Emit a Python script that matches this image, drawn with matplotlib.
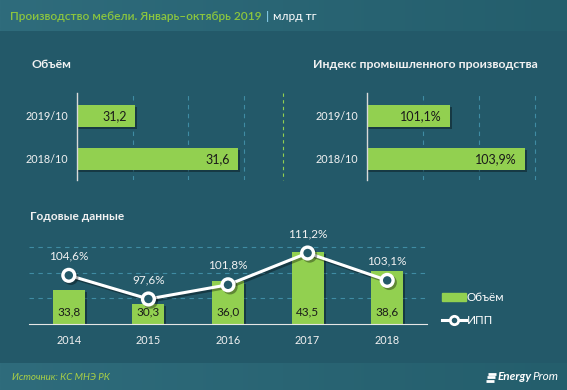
import matplotlib.pyplot as plt
import numpy as np
from matplotlib import patheffects as pe
from matplotlib.colors import LinearSegmentedColormap
from matplotlib.lines import Line2D
from matplotlib.patches import Patch

W, H = 567, 390

# data
periods = ["2018/10", "2019/10"]
volume = [31.6, 31.2]
ipp_period = [103.9, 101.1]

years = ["2014", "2015", "2016", "2017", "2018"]
volume_year = [33.8, 30.3, 36.0, 43.5, 38.6]
ipp_year = [104.6, 97.6, 101.8, 111.2, 103.1]

BG = "#235969"
GREEN = "#92d050"
GRID = "#3f8ca3"
TXT = "#f2f2f2"

plt.rcParams["font.family"] = ["Lato", "DejaVu Sans"]


def px(x0, y0, x1, y1):
    # pixel box (top-left origin) -> figure fraction rect
    return [x0 / W, 1 - y1 / H, (x1 - x0) / W, (y1 - y0) / H]


def fmt(v, pct=False):
    s = f"{v:.1f}".replace(".", ",")
    return s + "%" if pct else s


bar_shadow = [pe.SimplePatchShadow(offset=(1.5, -1.5), shadow_rgbFace="black", alpha=0.35), pe.Normal()]

fig = plt.figure(figsize=(W / 100, H / 100), dpi=100, facecolor=BG)

# background bands
bg = fig.add_axes([0, 0, 1, 1], zorder=-10)
grad = np.linspace(0, 1, 256)[None, :]
band = LinearSegmentedColormap.from_list("band", ["#2f6c7c", "#245e6c"])
bg.imshow(grad, cmap=band, extent=(0, W, 31, 0), aspect="auto")
bg.imshow(grad, cmap=band, extent=(0, W, H, 363), aspect="auto")
bg.plot([283, 283], [93, 180], color=GREEN, lw=0.8, ls=(0, (3, 3)))
bg.set_xlim(0, W)
bg.set_ylim(H, 0)
bg.axis("off")

# header
t1 = bg.text(10, 16, "Производство мебели. Январь–октябрь 2019", color="#8cc63e",
             fontsize=8.6, va="center", weight="semibold")
t2 = bg.annotate("|", xy=(1, 0.5), xycoords=t1, xytext=(3, 0), textcoords="offset points",
                 color="#7fc4e0", fontsize=8.6, va="center", weight="bold")
bg.annotate("млрд тг", xy=(1, 0.5), xycoords=t2, xytext=(3, 0), textcoords="offset points",
            color="white", fontsize=8.6, va="center")

# section titles
bg.text(32, 65, "Объём", color=TXT, fontsize=8.8, weight="bold", va="center")
bg.text(313, 65, "Индекс промышленного производства", color=TXT, fontsize=8.8,
        weight="bold", va="center")
bg.text(30, 216, "Годовые данные", color=TXT, fontsize=8.6, weight="bold", va="center")

# footer
bg.text(12, 377, "Источник: КС МНЭ РК", color="#a9cf46", fontsize=7, style="italic", va="center")
logo = bg.text(498, 377, "Energy", color="white", fontsize=8.5, weight="bold",
               style="italic", va="center")
bg.annotate("Prom", xy=(1, 0.5), xycoords=logo, color="white", fontsize=8.5,
            style="italic", va="center")
for dy in (-3.5, 0, 3.5):
    bg.plot([487 + dy * -0.3, 495 + dy * -0.3], [377 + dy, 377 + dy], color="white",
            lw=2, solid_capstyle="butt")


def style_hbar(ax, labels):
    ax.set_facecolor("none")
    for s in ("top", "right", "bottom"):
        ax.spines[s].set_visible(False)
    ax.spines["left"].set_color("#d9d9d9")
    ax.spines["left"].set_linewidth(1)
    ax.set_yticks(range(len(labels)), labels)
    ax.tick_params(axis="y", length=0, pad=6, colors=TXT, labelsize=7.8)
    ax.tick_params(axis="x", length=0, labelbottom=False)
    ax.grid(axis="x", color=GRID, ls=(0, (4, 4)), lw=0.8)
    ax.set_axisbelow(True)
    ax.set_ylim(-0.49, 1.535)


# top left: volume
ax1 = fig.add_axes(px(77, 93, 299, 180))
bars = ax1.barh(range(len(volume)), volume, height=0.51, color=GREEN)
for b in bars:
    b.set_path_effects(bar_shadow)
lo, hi = 30.975, 30.975 + 222 / 257.5
ax1.set_xlim(lo, hi)
ax1.set_xticks(np.linspace(lo, hi, 5)[1:4])
style_hbar(ax1, periods)
for i, v in enumerate(volume):
    ax1.annotate(fmt(v), xy=(v, i), xytext=(-6, 0), textcoords="offset points",
                 ha="right", va="center", fontsize=9, color="#1a1a1a")

# top right: index
ax2 = fig.add_axes(px(367, 93, 545, 180))
bars = ax2.barh(range(len(ipp_period)), ipp_period, height=0.51, color=GREEN)
for b in bars:
    b.set_path_effects(bar_shadow)
ax2.set_xlim(98, 98 + 178 / 26.8)
ax2.set_xticks(98 + 56 / 26.8 * np.arange(1, 4))
style_hbar(ax2, periods)
for i, v in enumerate(ipp_period):
    ax2.annotate(fmt(v, True), xy=(v, i), xytext=(-6, 0), textcoords="offset points",
                 ha="right", va="center", fontsize=9, color="#1a1a1a")

# bottom: yearly data
ax3 = fig.add_axes(px(29, 230, 427, 324))
ax3.set_facecolor("none")
x = np.arange(len(years))
bars = ax3.bar(x, volume_year, width=0.4, color=GREEN)
for b in bars:
    b.set_path_effects(bar_shadow)
y0 = 25.2
ax3.set_ylim(y0, y0 + 94 / 3.94)
ax3.set_yticks(y0 + 25.7 / 3.94 * np.arange(1, 4))
ax3.set_xlim(-0.5, 4.5)
ax3.set_xticks(x, years)
ax3.grid(axis="y", color=GRID, ls=(0, (4, 4)), lw=0.8)
ax3.set_axisbelow(True)
ax3.tick_params(axis="y", length=0, labelleft=False)
ax3.tick_params(axis="x", length=0, pad=8, colors=TXT, labelsize=7.8)
for s in ("top", "right", "left"):
    ax3.spines[s].set_visible(False)
ax3.spines["bottom"].set_color("#e6e6e6")
for i, v in enumerate(volume_year):
    ax3.annotate(fmt(v), xy=(i, y0), xytext=(0, 9), textcoords="offset points",
                 ha="center", va="center", fontsize=8.5, color="#1a1a1a")

ax4 = ax3.twinx()
ax4.set_ylim(90.2, 90.2 + 94 / 3.38)
ax4.axis("off")
ax4.plot(x, ipp_year, color="white", lw=2.2, marker="o", ms=8.5, mfc=BG, mec="white", mew=2.4,
         path_effects=[pe.SimpleLineShadow(offset=(1.5, -1.5), alpha=0.35), pe.Normal()])
for i, v in enumerate(ipp_year):
    ax4.annotate(fmt(v, True), xy=(i, v), xytext=(0, 14), textcoords="offset points",
                 ha="center", va="center", fontsize=8.5, color=TXT)

handles = [Patch(color=GREEN),
           Line2D([], [], color="white", lw=2.2, marker="o", ms=6, mfc=BG, mec="white", mew=2)]
fig.legend(handles, ["Объём", "ИПП"], loc="upper left", bbox_to_anchor=(436 / W, 1 - 286 / H),
           frameon=False, labelcolor="white", fontsize=8.5, handlelength=2.0,
           handletextpad=0.1, labelspacing=1.0, borderpad=0)

fig.savefig("out.png", dpi=100, facecolor=BG)
